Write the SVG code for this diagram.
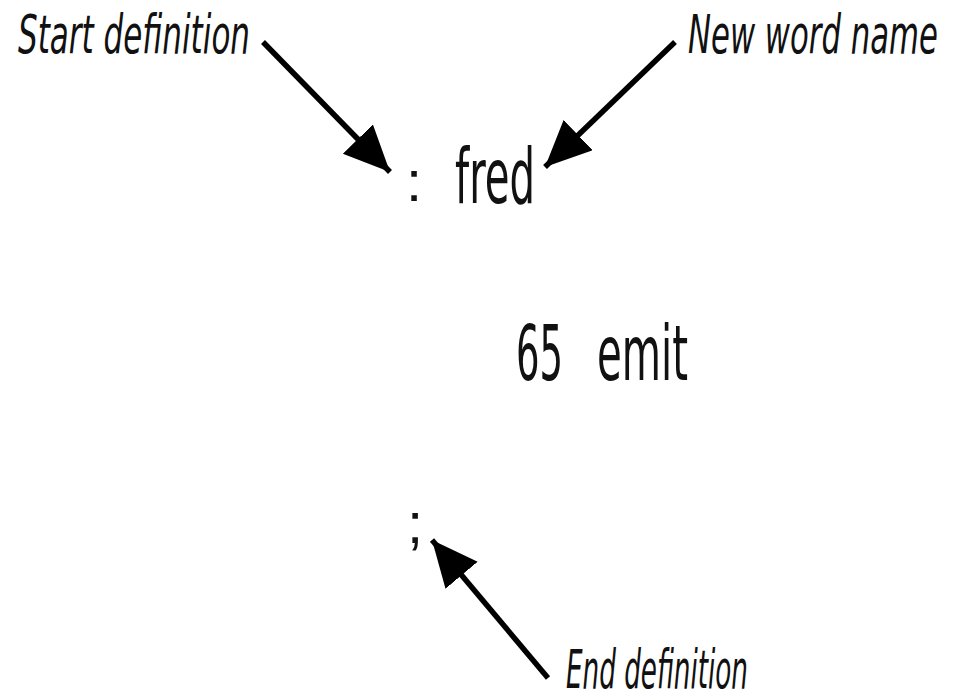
<svg xmlns="http://www.w3.org/2000/svg" width="955" height="694" viewBox="0 0 955 694">
<style>
.lbl{font-family:"Liberation Sans Narrow","DejaVu Sans Condensed","Liberation Sans",sans-serif;font-style:italic;font-size:54px;fill:#111}
.code{font-family:"Liberation Sans Narrow","DejaVu Sans Condensed","Liberation Sans",sans-serif;font-size:76px;fill:#111}
.punct{font-family:"Liberation Sans","DejaVu Sans",sans-serif;font-size:58px;fill:#111}
.arr{stroke:#000;stroke-width:5.5;fill:none;marker-end:url(#ah)}
</style>
<defs>
<marker id="ah" markerUnits="userSpaceOnUse" markerWidth="50" markerHeight="44" refX="46" refY="21" orient="auto" viewBox="0 0 50 44">
<path d="M0,0 L46,21 L0,42 Z" fill="#000"/>
</marker>
</defs>
<g id="connectors">
<line class="arr" x1="263" y1="42" x2="390" y2="172"/>
<line class="arr" x1="675" y1="42" x2="545" y2="167"/>
<line class="arr" x1="548" y1="678" x2="432" y2="540"/>
</g>
<g id="start-label"><text class="lbl" x="18" y="53" textLength="232" lengthAdjust="spacingAndGlyphs">Start definition</text></g>
<g id="new-word-label"><text class="lbl" x="688" y="53" textLength="250" lengthAdjust="spacingAndGlyphs">New word name</text></g>
<g id="colon-fred"><text class="punct" x="406" y="201">:</text><text class="code" x="455" y="203" textLength="80" lengthAdjust="spacingAndGlyphs">fred</text></g>
<g id="emit-line"><text class="code" x="516" y="380" textLength="47" lengthAdjust="spacingAndGlyphs">65</text><text class="code" x="597" y="380" textLength="91" lengthAdjust="spacingAndGlyphs">emit</text></g>
<g id="semicolon"><text class="punct" x="407" y="543">;</text></g>
<g id="end-label"><text class="lbl" x="566" y="688" textLength="182" lengthAdjust="spacingAndGlyphs">End definition</text></g>
</svg>
